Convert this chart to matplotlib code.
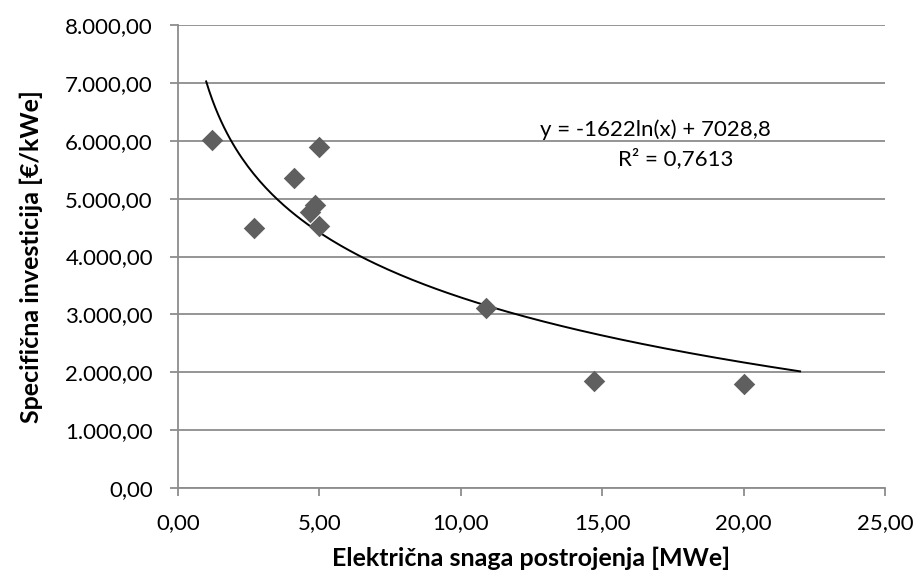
import matplotlib.pyplot as plt
import numpy as np
from matplotlib.ticker import FuncFormatter

plt.rcParams['font.family'] = ['Lato', 'DejaVu Sans']

# data
snaga = [1.2, 2.7, 4.1, 4.67, 4.85, 5.0, 5.0, 10.9, 14.7, 20.0]
investicija = [6020, 4495, 5365, 4775, 4890, 5890, 4530, 3110, 1845, 1795]

# Excel log trendline
a, b = -1622, 7028.8
x_fit = np.linspace(1, 22, 200)
y_fit = a * np.log(x_fit) + b


def hr_fmt(v, pos):
    s = f"{v:,.2f}"
    return s.replace(",", "X").replace(".", ",").replace("X", ".")


fig = plt.figure(figsize=(9.17, 5.74), dpi=100)
ax = fig.add_axes([0.194, 0.150, 0.771, 0.806])

ax.plot(x_fit, y_fit, color='black', linewidth=1.4, zorder=2)
ax.scatter(snaga, investicija, marker='D', s=120, color='#5f5f5f', zorder=3, linewidths=0)

ax.set_xlim(0, 25)
ax.set_ylim(0, 8000)
ax.set_xticks(np.arange(0, 26, 5))
ax.set_yticks(np.arange(0, 8001, 1000))
ax.xaxis.set_major_formatter(FuncFormatter(hr_fmt))
ax.yaxis.set_major_formatter(FuncFormatter(hr_fmt))

ax.grid(axis='y', color='#8c8c8c', linewidth=1.3)
ax.set_axisbelow(True)
for s in ['top', 'right']:
    ax.spines[s].set_visible(False)
for s in ['left', 'bottom']:
    ax.spines[s].set_color('#8c8c8c')
    ax.spines[s].set_linewidth(1.3)
ax.tick_params(axis='both', direction='out', color='#8c8c8c', length=6, width=1.3,
               labelsize=16, pad=12)

ax.text(16.9, 6200, 'y = -1622ln(x) + 7028,8', fontsize=16, ha='center', va='center')
ax.text(17.6, 5700, 'R² = 0,7613', fontsize=16, ha='center', va='center')

ax.set_xlabel('Električna snaga postrojenja [MWe]', fontsize=18, fontweight='bold', labelpad=10)
ax.set_ylabel('Specifična investicija [€/kWe]', fontsize=18, fontweight='bold', labelpad=16)

fig.savefig('out.png', dpi=100)
